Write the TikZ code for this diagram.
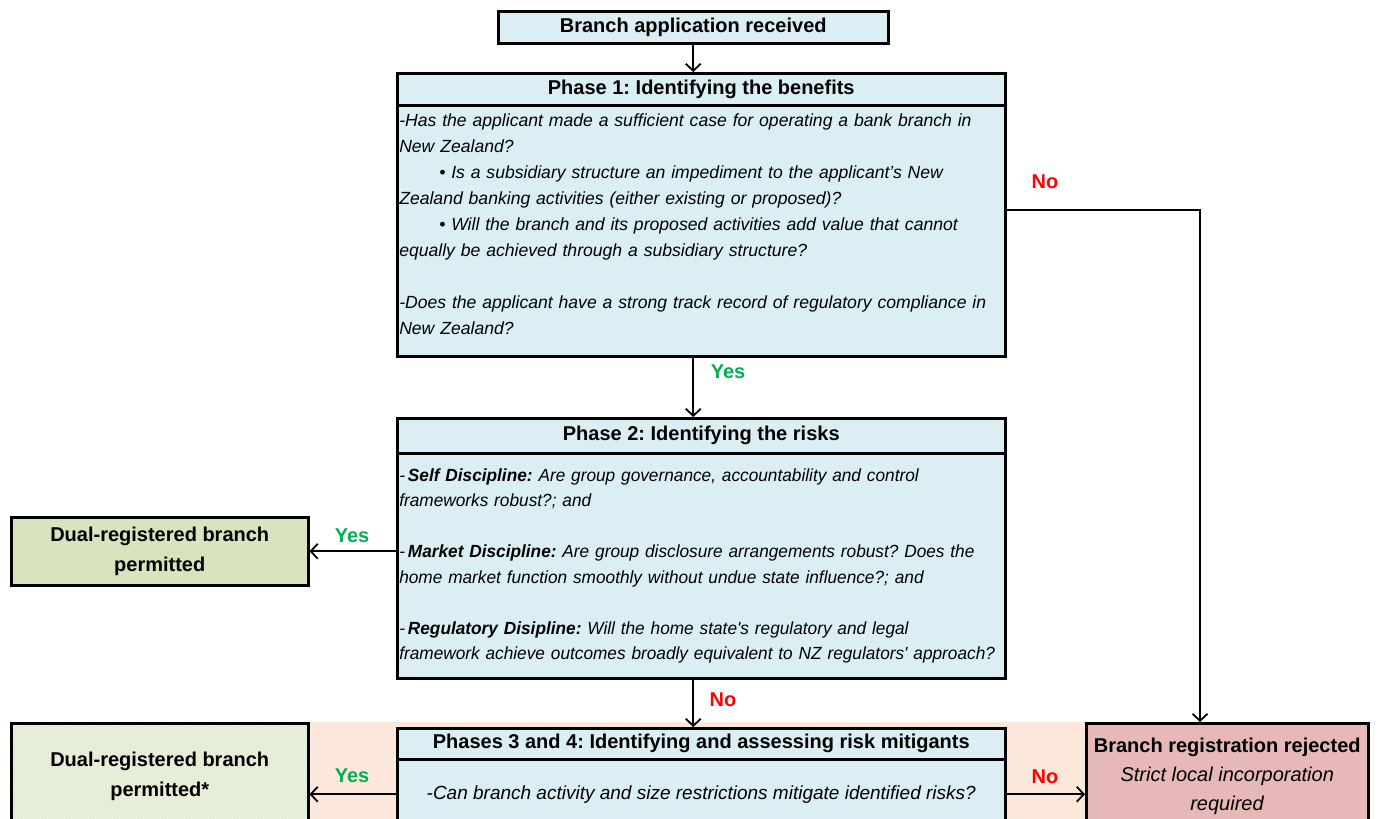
\documentclass[tikz,border=0pt]{standalone}
\usepackage{fontspec}
\setmainfont{Liberation Sans}
\newfontfamily\narrowbody{Liberation Sans}[FakeStretch=0.98]
\usetikzlibrary{arrows.meta,patterns}

\definecolor{phaseblue}{RGB}{219,238,243}
\definecolor{okgreen}{RGB}{215,228,189}
\definecolor{hatchbase}{RGB}{238,243,228}
\definecolor{rejectpink}{RGB}{230,185,184}
\definecolor{peach}{RGB}{252,232,218}
\definecolor{yesgreen}{RGB}{0,176,80}
\definecolor{nored}{RGB}{255,0,0}

\frenchspacing
\hyphenpenalty=10000

\begin{document}
\begin{tikzpicture}[x=1pt,y=-1pt,
    box/.style={draw,line width=2.5pt,inner sep=0pt,anchor=north west},
    phasehead/.style={box,fill=phaseblue,minimum width=608pt,minimum height=#1,
      font=\bfseries\fontsize{20}{24}\selectfont},
    phasebody/.style={box,fill=phaseblue,minimum width=608pt,minimum height=#1,
      inner xsep=2pt,text width=604pt,align=left},
    endbox/.style={box,align=center,font=\fontsize{20}{30}\selectfont},
    conn/.style={line width=1.8pt,-{Straight Barb[length=7pt,width=15pt]}},
    yeslabel/.style={text=yesgreen,font=\bfseries\fontsize{20}{24}\selectfont},
    nolabel/.style={text=nored,font=\bfseries\fontsize{20}{24}\selectfont}]
  \useasboundingbox (0,0) rectangle (1379,819);
  % band behind the last row
  \fill[peach] (307,722) rectangle (1085,840);

  \node[box,fill=phaseblue,minimum width=390pt,minimum height=32pt,
    font=\bfseries\fontsize{20}{24}\selectfont] (start) at (497,10)
    {Branch application received};

  % phase 1
  \node[phasehead=32pt] (p1head) at (396,72) {Phase 1: Identifying the benefits};
  \node[phasebody=251pt,font=\itshape\fontsize{17.6}{26}\selectfont] (p1body) at (396,104)
    {-Has the applicant made a sufficient case for operating a bank branch in\\
     New Zealand?\\
     \hspace*{40pt}\textbullet\ Is a subsidiary structure an impediment to the applicant's New\\
     Zealand banking activities (either existing or proposed)?\\
     \hspace*{40pt}\textbullet\ Will the branch and its proposed activities add value that cannot\\
     equally be achieved through a subsidiary structure?\\[26pt]
     -Does the applicant have a strong track record of regulatory compliance in\\
     New Zealand?\\[-12pt]\mbox{}};

  % phase 2
  \node[phasehead=35pt] (p2head) at (396,417) {Phase 2: Identifying the risks};
  \node[phasebody=225pt,font=\narrowbody\itshape\fontsize{17.6}{25.5}\selectfont] (p2body) at (396,452)
    {-\,\textbf{Self Discipline:}\ Are group governance, accountability and control\\
     frameworks robust?; and\\[25.5pt]
     -\,\textbf{Market Discipline:}\ Are group disclosure arrangements robust? Does the\\
     home market function smoothly without undue state influence?; and\\[25.5pt]
     -\,\textbf{Regulatory Disipline:}\ Will the home state\textquotesingle s regulatory and legal\\
     framework achieve outcomes broadly equivalent to NZ regulators\textquotesingle\ approach?};

  \node[endbox,fill=okgreen,minimum width=297pt,minimum height=68pt,
    font=\bfseries\fontsize{20}{30}\selectfont] (dual) at (10,516)
    {Dual-registered branch\\permitted};

  % phases 3 and 4
  \node[phasehead=31pt] (p34head) at (396,727)
    {Phases 3 and 4: Identifying and assessing risk mitigants};
  \node[box,fill=phaseblue,minimum width=608pt,minimum height=70pt,
    font=\itshape\fontsize{19}{24}\selectfont] (p34body) at (396,758)
    {-Can branch activity and size restrictions mitigate identified risks?};

  \node[endbox,preaction={fill=hatchbase},pattern=north east lines,pattern color=okgreen,
    minimum width=297pt,minimum height=106pt,
    font=\bfseries\fontsize{20}{30}\selectfont] (dualstar) at (10,722)
    {Dual-registered branch\\permitted*};
  \node[endbox,fill=rejectpink,minimum width=282pt,minimum height=106pt,
    font=\fontsize{20}{29}\selectfont] (reject) at (1085,722)
    {\textbf{Branch registration rejected}\\\textit{Strict local incorporation}\\\textit{required}};

  % connectors
  \draw[conn] (start.south) -- (start.south |- p1head.north);
  \draw[conn] (start.south |- p1body.south) -- (start.south |- p2head.north);
  \coordinate (nobend) at (1200,210);
  \draw[conn] (p1body.east |- nobend) -- (nobend) -- (nobend |- reject.north);
  \draw[conn] (p2body.west |- dual.east) -- (dual.east);
  \draw[conn] (start.south |- p2body.south) -- (start.south |- p34head.north);
  \draw[conn] (p34body.west) -- (dualstar.east |- p34body.west);
  \draw[conn] (p34body.east) -- (reject.west |- p34body.east);

  \node[yeslabel] (yes1) at (728,372) {Yes};
  \node[nolabel] (no1) at (1045,182) {No};
  \node[yeslabel] (yes2) at (352,536) {Yes};
  \node[nolabel] (no2) at (723,700) {No};
  \node[yeslabel] (yes3) at (352,776) {Yes};
  \node[nolabel] (no3) at (1045,777) {No};
\end{tikzpicture}
\end{document}
